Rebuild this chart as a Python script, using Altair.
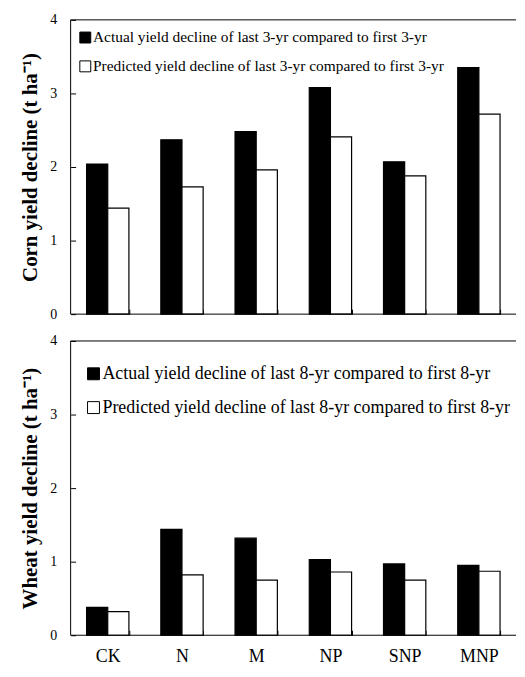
import altair as alt
import pandas as pd

categories = ["CK", "N", "M", "NP", "SNP", "MNP"]
corn_actual = [2.04, 2.37, 2.48, 3.08, 2.07, 3.35]
corn_pred = [1.44, 1.73, 1.96, 2.41, 1.88, 2.72]
wheat_actual = [0.38, 1.44, 1.32, 1.03, 0.97, 0.95]
wheat_pred = [0.32, 0.82, 0.75, 0.86, 0.75, 0.87]
y_ticks = [0, 1, 2, 3, 4]

corn_series = ["Actual yield decline of last 3-yr compared to first 3-yr",
               "Predicted yield decline of last 3-yr compared to first 3-yr"]
wheat_series = ["Actual yield decline of last 8-yr compared to first 8-yr",
                "Predicted yield decline of last 8-yr compared to first 8-yr"]


def make_df(actual, pred, names):
    rows = []
    for c, a, p in zip(categories, actual, pred):
        rows.append({"cat": c, "series": names[0], "value": a})
        rows.append({"cat": c, "series": names[1], "value": p})
    return pd.DataFrame(rows)


W = 448
H = 296
FONT = "Liberation Serif"
one = pd.DataFrame({"k": [0]})


def panel(df, names, title, show_labels, legend_font, sym, lx, ly, rowpad):
    x = alt.X("cat:N", sort=categories,
              scale=alt.Scale(paddingInner=0.43, paddingOuter=0.215),
              axis=alt.Axis(title=None, labels=show_labels, labelAngle=0, labelFont=FONT,
                            labelFontSize=18, labelColor="black",
                            labelPadding=21 if show_labels else 0,
                            labelBaseline="middle",
                            domain=False, ticks=True, tickBand="extent", tickSize=5,
                            offset=-5, tickColor="black", grid=False))
    y = alt.Y("value:Q", scale=alt.Scale(domain=[0, 4], nice=False),
              axis=alt.Axis(values=y_ticks, format="d", title=title, titleFont=FONT,
                            titleFontSize=21, titleFontWeight="bold", titleColor="black",
                            labelFont=FONT, labelFontSize=14, labelColor="black",
                            labelPadding=14, domain=False, tickSize=5, offset=-5,
                            tickColor="black", grid=False, titlePadding=9))
    color = alt.Color("series:N",
                      scale=alt.Scale(domain=names, range=["black", "white"]),
                      legend=alt.Legend(title=None, orient="none", legendX=lx, legendY=ly,
                                        symbolType="square", symbolSize=sym,
                                        symbolStrokeColor="black", symbolStrokeWidth=1,
                                        labelFont=FONT, labelFontSize=legend_font,
                                        labelColor="black", rowPadding=rowpad,
                                        labelOffset=0, padding=0, labelLimit=600))
    bars = alt.Chart(df).mark_bar(stroke="black", strokeWidth=1.2).encode(
        x=x,
        xOffset=alt.XOffset("series:N", sort=names,
                            scale=alt.Scale(domain=names, paddingInner=0, paddingOuter=0)),
        y=y,
        color=color,
    )
    left_line = alt.Chart(one).mark_rule(color="black", strokeWidth=1).encode(
        x=alt.value(0), y=alt.datum(0), y2=alt.datum(4))
    top_line = alt.Chart(one).mark_rule(color="black", strokeWidth=1).encode(
        y=alt.datum(4), x=alt.value(0), x2=alt.value(W))
    bottom_line = alt.Chart(one).mark_rule(color="black", strokeWidth=1).encode(
        y=alt.datum(0), x=alt.value(0), x2=alt.value(W))
    return alt.layer(bars, left_line, top_line, bottom_line).properties(width=W, height=H)


top = panel(make_df(corn_actual, corn_pred, corn_series), corn_series,
            "Corn yield decline (t ha\u207b\u00b9)", False, 15.5, 121, 7, 10, 12)
bottom = panel(make_df(wheat_actual, wheat_pred, wheat_series), wheat_series,
               "Wheat yield decline (t ha\u207b\u00b9)", True, 18, 144, 14, 24, 16)

chart = alt.vconcat(top, bottom, spacing=13).resolve_scale(
    color="independent", xOffset="independent"
).resolve_legend(color="independent").configure(
    padding={"left": 11, "top": 3, "right": 0, "bottom": 0}
).configure_view(stroke=None)

chart.save("out.html", embed_options={"renderer": "svg", "actions": False})
